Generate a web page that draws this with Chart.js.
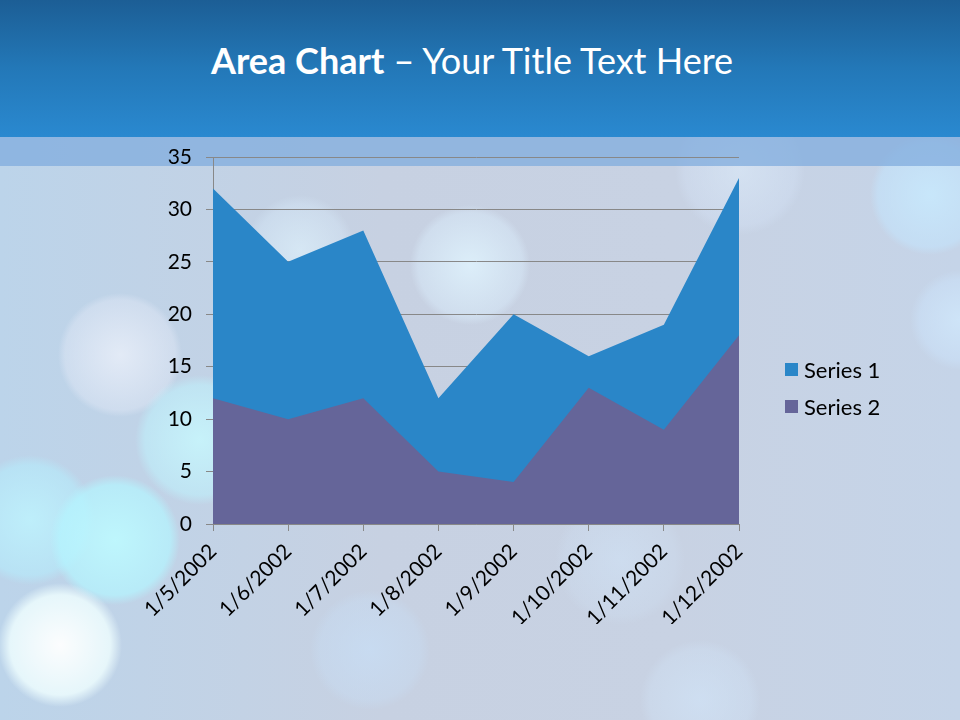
<!DOCTYPE html>
<html>
<head>
<meta charset="utf-8">
<script src="https://cdn.jsdelivr.net/npm/chart.js@4"></script>
<style>
  html, body { margin: 0; padding: 0; }
  body {
    width: 960px; height: 720px; position: relative; overflow: hidden;
    font-family: Lato, "Noto Sans", sans-serif;
    background:
      radial-gradient(circle at 60px 645px, rgba(255,255,255,0.95) 0, rgba(240,255,255,0.8) 50px, rgba(200,245,255,0) 62px),
      radial-gradient(circle at 115px 540px, rgba(190,250,255,0.9) 0, rgba(180,245,255,0.7) 55px, rgba(180,240,255,0) 65px),
      radial-gradient(circle at 30px 520px, rgba(190,245,255,0.8) 0, rgba(180,240,255,0.5) 55px, rgba(180,240,255,0) 65px),
      radial-gradient(circle at 200px 440px, rgba(200,250,255,0.8) 0, rgba(190,245,255,0.5) 55px, rgba(190,245,255,0) 65px),
      radial-gradient(circle at 120px 355px, rgba(235,240,250,0.8) 0, rgba(230,235,248,0.4) 55px, rgba(230,235,248,0) 62px),
      radial-gradient(circle at 470px 265px, rgba(225,245,255,0.8) 0, rgba(220,240,255,0.4) 52px, rgba(220,240,255,0) 60px),
      radial-gradient(circle at 300px 250px, rgba(225,245,255,0.6) 0, rgba(220,240,255,0.3) 45px, rgba(220,240,255,0) 55px),
      radial-gradient(circle at 370px 650px, rgba(200,225,250,0.6) 0, rgba(200,225,250,0.3) 50px, rgba(200,225,250,0) 60px),
      radial-gradient(circle at 700px 700px, rgba(210,230,250,0.6) 0, rgba(210,230,250,0.3) 50px, rgba(210,230,250,0) 60px),
      radial-gradient(circle at 930px 195px, rgba(200,235,255,0.8) 0, rgba(195,230,255,0.5) 52px, rgba(195,230,255,0) 60px),
      radial-gradient(circle at 960px 320px, rgba(210,235,255,0.7) 0, rgba(205,230,255,0.4) 40px, rgba(205,230,255,0) 50px),
      radial-gradient(circle at 740px 170px, rgba(220,235,250,0.6) 0, rgba(215,230,250,0.3) 55px, rgba(215,230,250,0) 65px),
      radial-gradient(circle at 620px 560px, rgba(210,230,250,0.5) 0, rgba(210,230,250,0.2) 55px, rgba(210,230,250,0) 65px),
      linear-gradient(90deg, #bcd4ea 0, #c7d1e2 40%, #c8d2e3 70%, #c5d4e8 100%);
  }
  #header {
    position: absolute; left: 0; top: 0; width: 960px; height: 137px;
    background: linear-gradient(180deg, #1c5e95 0, #2378b8 50%, #2a89d0 100%);
  }
  #band {
    position: absolute; left: 0; top: 137px; width: 960px; height: 29px;
    background: rgba(128, 172, 222, 0.75);
  }
  #title {
    position: absolute; left: 0; top: 38px; width: 944px; text-align: center;
    color: #fff; font-size: 36px; line-height: 44px;
  }
  #title b { font-weight: 700; }
  #wrap { position: absolute; left: 0; top: 0; width: 960px; height: 720px; }
  #legend {
    position: absolute; left: 785px; top: 351px; margin: 0; padding: 0;
    list-style: none; font-size: 22px; color: #000;
  }
  #legend li { height: 37px; line-height: 26px; display: flex; align-items: center; }
  #legend li span.box {
    display: inline-block; width: 13px; height: 13px; margin-right: 6px;
  }
</style>
</head>
<body>
<div id="header"></div>
<div id="band"></div>
<div id="title"><b>Area Chart</b> – Your Title Text Here</div>
<div id="wrap"><canvas id="chart"></canvas></div>
<ul id="legend"></ul>
<script>
const categories = ['1/5/2002', '1/6/2002', '1/7/2002', '1/8/2002', '1/9/2002', '1/10/2002', '1/11/2002', '1/12/2002'];
const series1 = [32, 25, 28, 12, 20, 16, 19, 33];
const series2 = [12, 10, 12, 5, 4, 13, 9, 18];
const yTicks = [0, 5, 10, 15, 20, 25, 30, 35];

const fontFamily = 'Lato, "Noto Sans", sans-serif';

const chart = new Chart(document.getElementById('chart').getContext('2d'), {
  type: 'line',
  data: {
    labels: categories,
    datasets: [
      {
        label: 'Series 1',
        data: series1,
        backgroundColor: '#2a86c8',
        borderColor: '#2a86c8',
        borderWidth: 0,
        fill: 'origin',
        pointRadius: 0,
        tension: 0,
        order: 1
      },
      {
        label: 'Series 2',
        data: series2,
        backgroundColor: '#656599',
        borderColor: '#656599',
        borderWidth: 0,
        fill: 'origin',
        pointRadius: 0,
        tension: 0,
        order: 0
      }
    ]
  },
  options: {
    responsive: true,
    maintainAspectRatio: false,
    animation: false,
    layout: {
      padding: { left: 143, right: 221, top: 157, bottom: 96 }
    },
    scales: {
      x: {
        offset: false,
        afterFit: (scale) => { scale.height = 100; },
        grid: {
          drawOnChartArea: false,
          color: '#888888',
          tickLength: 7
        },
        border: { color: '#888888' },
        ticks: {
          color: '#000000',
          font: { family: fontFamily, size: 21 },
          maxRotation: 45,
          minRotation: 45,
          autoSkip: false,
          padding: 8
        }
      },
      y: {
        min: 0,
        max: 35,
        afterFit: (scale) => { scale.width = 70; },
        afterBuildTicks: (scale) => {
          scale.ticks = yTicks.map((v) => ({ value: v }));
        },
        grid: {
          color: '#888888',
          tickLength: 7
        },
        border: { color: '#888888' },
        ticks: {
          color: '#000000',
          font: { family: fontFamily, size: 21 },
          padding: 14
        }
      }
    },
    plugins: {
      legend: { display: false },
      tooltip: { enabled: false }
    }
  }
});

// HTML legend built from the chart's own legend items
const legendEl = document.getElementById('legend');
chart.options.plugins.legend.labels.generateLabels(chart)
  .sort((a, b) => a.datasetIndex - b.datasetIndex)
  .forEach((item) => {
    const li = document.createElement('li');
    const box = document.createElement('span');
    box.className = 'box';
    box.style.background = item.fillStyle;
    li.appendChild(box);
    li.appendChild(document.createTextNode(item.text));
    legendEl.appendChild(li);
  });
</script>
</body>
</html>
